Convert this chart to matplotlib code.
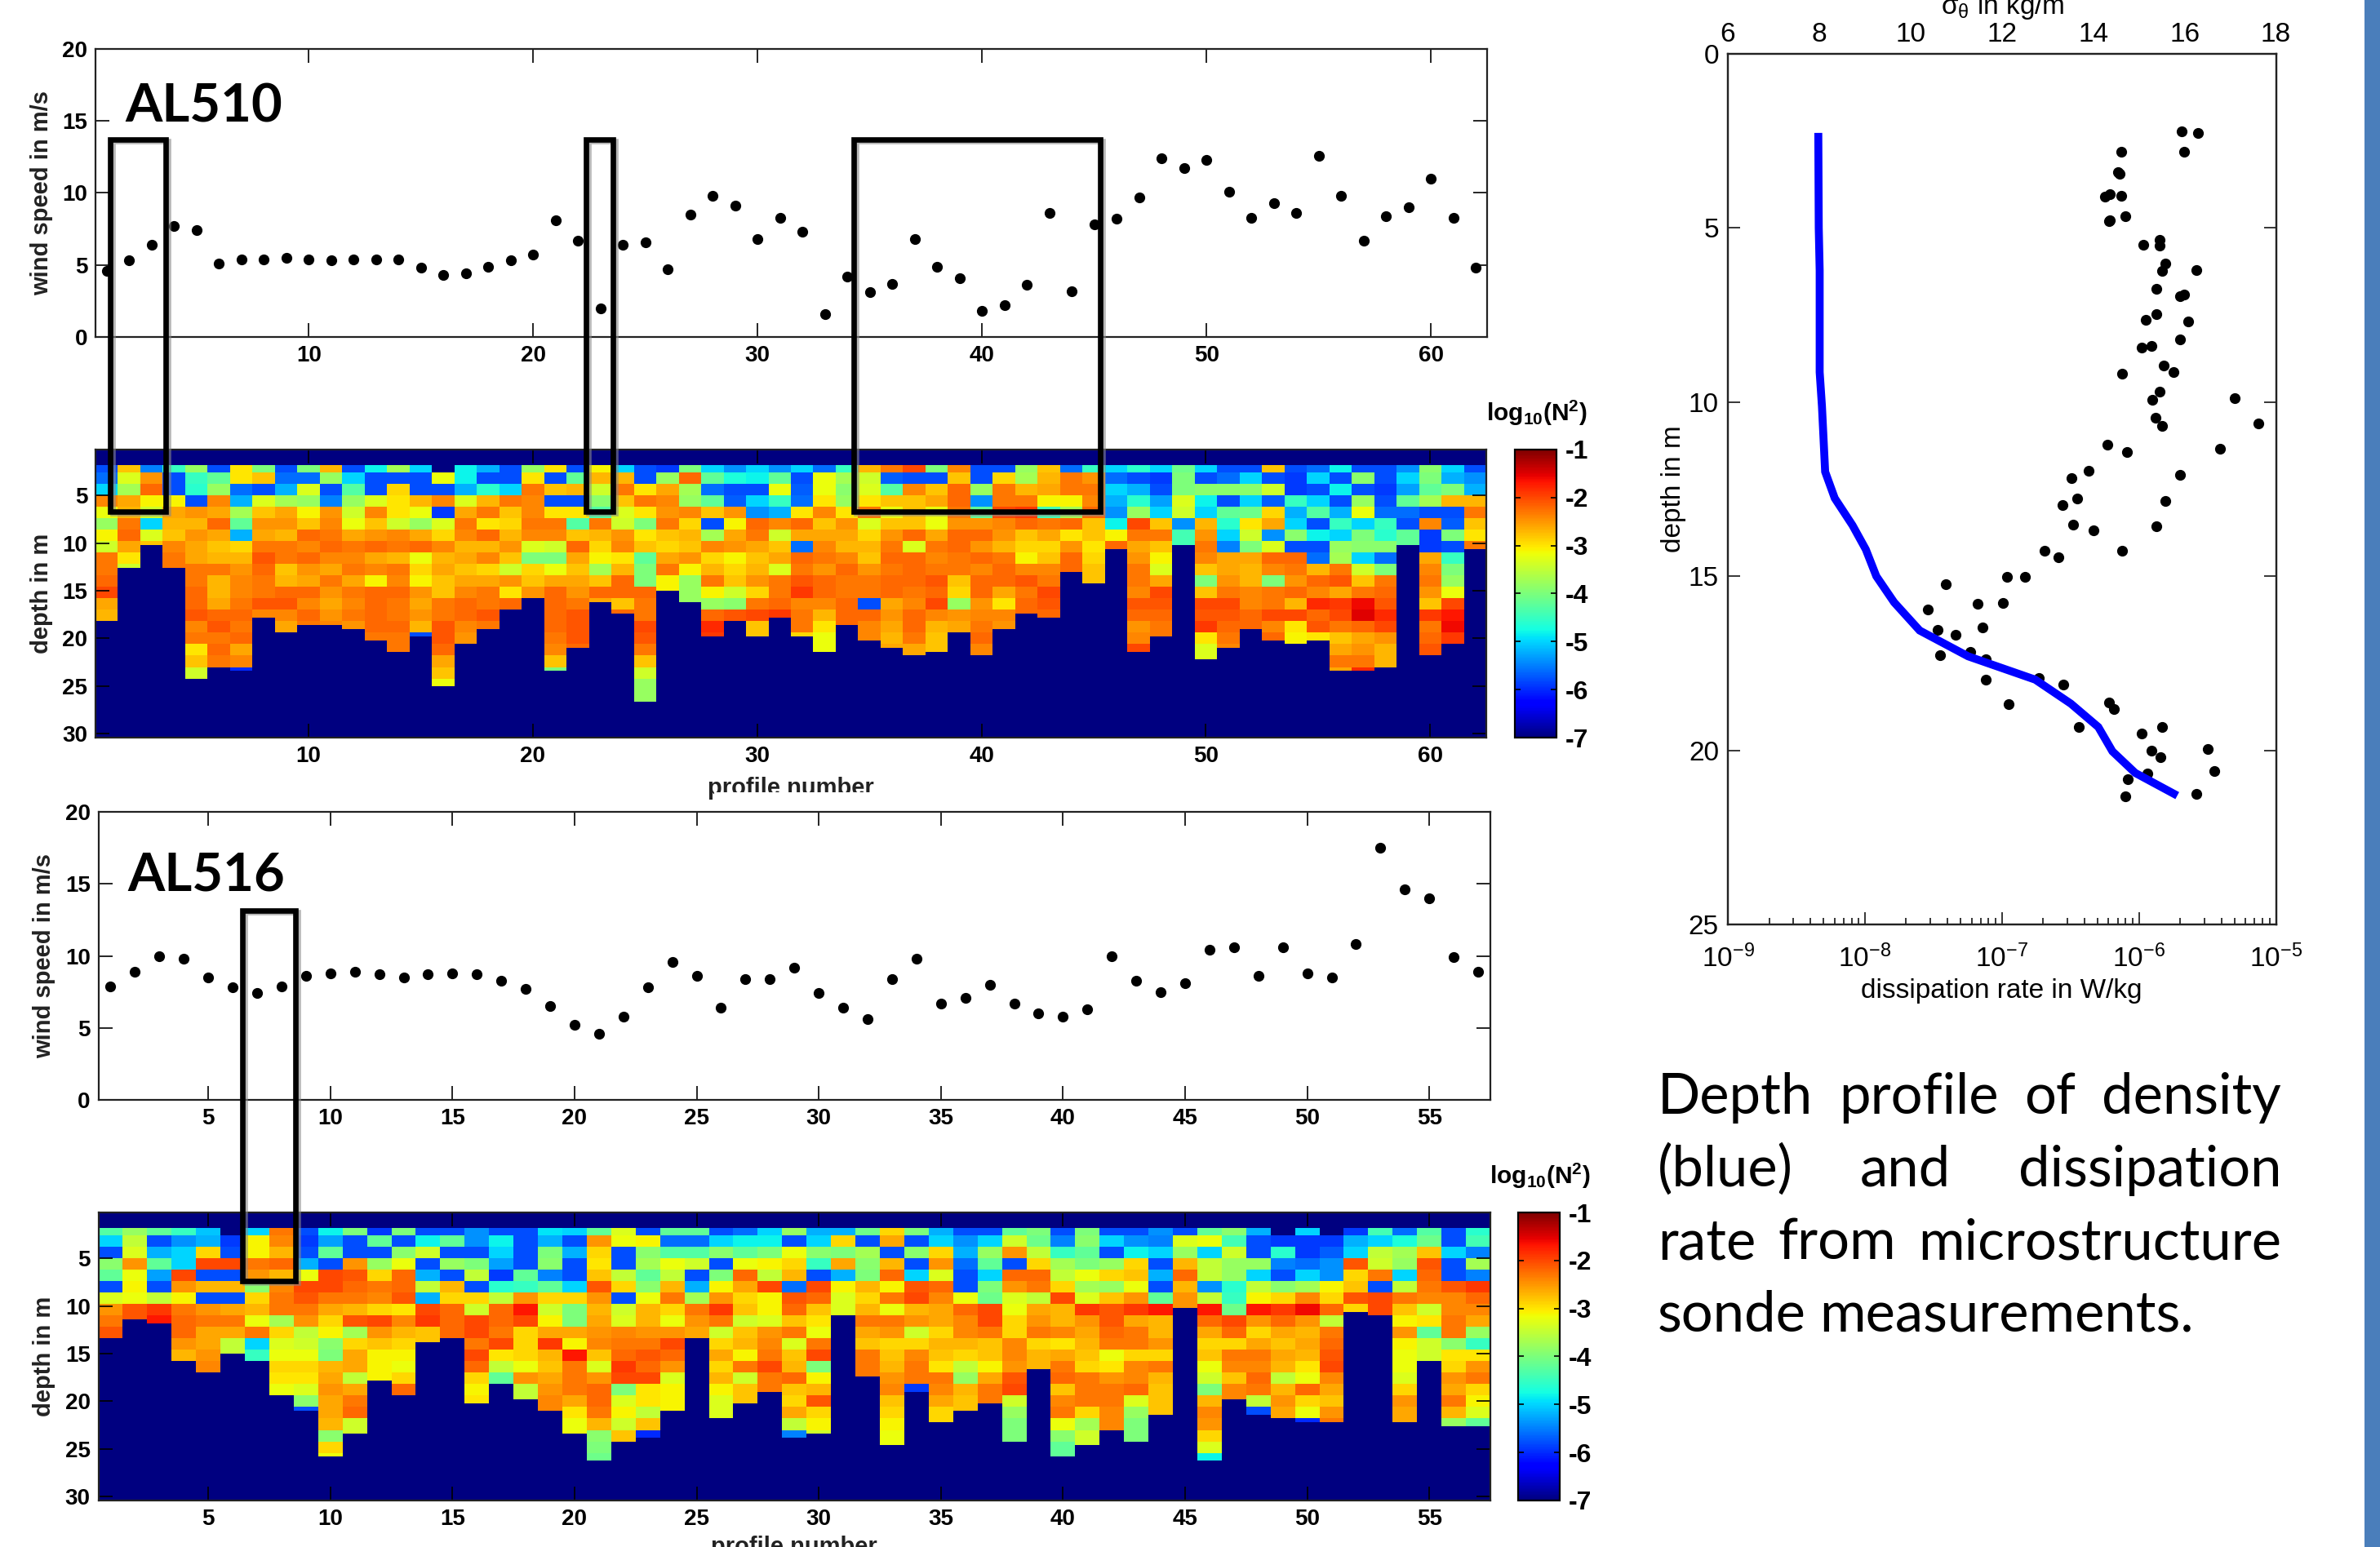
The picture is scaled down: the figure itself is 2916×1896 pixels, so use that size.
import numpy as np
import matplotlib
matplotlib.use('Agg')
import matplotlib.pyplot as plt
import matplotlib.patheffects as pe
from matplotlib.patches import Rectangle

plt.rcParams['font.family'] = ['Liberation Sans', 'DejaVu Sans']
plt.rcParams['mathtext.fontset'] = 'custom'
plt.rcParams['mathtext.rm'] = 'Liberation Sans'
plt.rcParams['mathtext.bf'] = 'Liberation Sans:bold'
plt.rcParams['mathtext.it'] = 'Liberation Sans:italic'

# wind speed per profile (m/s)
wind_al510 = [4.6, 5.3, 6.4, 7.7, 7.4, 5.1, 5.4, 5.4, 5.5, 5.4, 5.3, 5.4, 5.4, 5.4, 4.8, 4.3, 4.4, 4.9, 5.3, 5.7,
              8.1, 6.7, 2.0, 6.4, 6.6, 4.7, 8.5, 9.8, 9.1, 6.8, 8.3, 7.3, 1.6, 4.2, 3.1, 3.7, 6.8, 4.9, 4.1, 1.8,
              2.2, 3.6, 8.6, 3.2, 7.8, 8.2, 9.7, 12.4, 11.7, 12.3, 10.1, 8.3, 9.3, 8.6, 12.6, 9.8, 6.7, 8.4, 9.0, 11.0,
              8.3, 4.8]
wind_al516 = [7.9, 8.9, 10.0, 9.8, 8.5, 7.8, 7.4, 7.9, 8.6, 8.8, 8.9, 8.7, 8.5, 8.7, 8.8, 8.7, 8.3, 7.7, 6.5, 5.2,
              4.6, 5.8, 7.8, 9.6, 8.6, 6.4, 8.4, 8.4, 9.2, 7.4, 6.4, 5.6, 8.4, 9.8, 6.7, 7.1, 8.0, 6.7, 6.0, 5.8,
              6.3, 10.0, 8.3, 7.5, 8.1, 10.4, 10.6, 8.6, 10.6, 8.8, 8.5, 10.8, 17.5, 14.6, 14.0, 9.9, 8.9]

# deepest sample of each profile (m)
bottom_al510 = [18.3, 12.7, 10.3, 12.7, 24.3, 23.1, 23.5, 17.9, 19.5, 18.7, 18.7, 19.2, 20.4, 21.6, 19.9, 25.2, 20.7,
                19.2, 17.1, 15.9, 23.5, 21.1, 16.3, 17.5, 26.7, 15.1, 16.3, 19.9, 18.3, 19.9, 17.9, 19.9, 21.6, 18.7,
                20.3, 21.1, 21.9, 21.6, 19.5, 21.9, 19.1, 17.5, 17.9, 13.0, 14.3, 10.6, 21.6, 19.9, 10.3, 22.3, 21.1,
                19.1, 20.3, 20.7, 20.3, 23.5, 23.5, 23.1, 10.2, 21.9, 20.7, 10.6]
bottom_al516 = [13.4, 11.4, 11.8, 15.9, 17.0, 15.0, 15.9, 19.5, 21.0, 25.9, 23.4, 17.9, 19.5, 13.8, 13.4, 20.3, 18.3,
                19.9, 21.0, 23.5, 26.3, 24.3, 23.9, 21.0, 13.4, 21.9, 20.3, 19.0, 23.9, 23.5, 11.0, 17.4, 24.7, 19.0,
                22.2, 21.0, 20.3, 24.2, 16.6, 25.9, 24.7, 23.0, 24.2, 21.5, 10.2, 26.3, 19.8, 21.5, 21.9, 22.2, 22.2,
                10.7, 11.0, 22.2, 15.8, 22.7, 22.7]

# log10(N^2) read per profile, one value per 1.2 m depth band starting at 1.6 m
n2_al510 = [
    [-5.8, -5.6, -5, -2.4, -3.2, -3.8, -3.1, -3.4, -2.3, -2.3, -2.2, -2, -2.6, -2.7],
    [-2.8, -3.3, -3.7, -2.6, -2.7, -2.3, -2.2, -2.6, -3.0, -3.4],
    [-5.5, -2.5, -2.2, -3.1, -3.4, -5, -3.3, -2.8],
    [-4.5, -5.8, -5.8, -3.1, -2.6, -2.7, -2.8, -2.4, -2.3, -2.3],
    [-3.8, -4.5, -4.6, -5.8, -2.5, -2.7, -2.5, -2.6, -2.6, -2.3, -2.3, -2.2, -2.2, -2.1, -2.4, -2.3, -3.0, -2.8, -3.4],
    [-5.8, -4.2, -3.8, -2.4, -2.6, -2.2, -2.6, -2.8, -2.7, -2.3, -2.7, -2.7, -2.6, -2.2, -2.1, -2.3, -2.2, -2.3],
    [-3.0, -3.0, -5.6, -5.2, -3.7, -4.2, -5.2, -2.9, -2.7, -2.5, -2.4, -2.4, -2.3, -2.2, -2.3, -2.2, -2.6, -2.4, -6],
    [-4, -2.8, -5.8, -3.3, -2.8, -2.5, -2.6, -2.3, -2.1, -2.2, -2.3, -2.3, -2.1, -2.4],
    [-5.8, -5.6, -5.2, -3.7, -2.6, -2.5, -2.7, -2.3, -2.3, -2.8, -2.7, -2.2, -2.1, -2.4, -2.6],
    [-4, -5.6, -3.3, -3.8, -3.1, -2.8, -2.2, -2.4, -2.2, -2.5, -2.6, -2.2, -2.4, -2.2, -2.3],
    [-2.7, -3.8, -5.8, -5.5, -2.5, -2.4, -2.3, -2.2, -2.4, -2.6, -2.3, -2.5, -2.6, -2.5, -2.4],
    [-5.8, -5.0, -4.3, -3.8, -3.4, -3.2, -2.6, -2.3, -2.4, -2.3, -2.6, -2.3, -2.4, -2.3, -2.5],
    [-4.8, -5.8, -5.8, -3.3, -2.4, -2.8, -2.5, -2.2, -2.6, -2.4, -3.1, -2.2, -2.2, -2.2, -2.2, -2.3],
    [-3.7, -5.8, -2.9, -3.0, -3.0, -3.4, -2.4, -2.3, -2.7, -2.3, -2.4, -2.2, -2.3, -2.3, -2.2, -2.3, -2.3],
    [-5.0, -5.8, -5.8, -2.7, -3.2, -3.8, -2.6, -2.2, -3.2, -2.9, -3.1, -2.5, -2.6, -2.5, -2.7, -5.8],
    [-7, -3.2, -5.8, -2.4, -5.9, -3.3, -2.9, -2.4, -2.7, -2.6, -2.8, -2.8, -2.3, -2.3, -2.1, -2.1, -2.2, -2.6, -2.8, -3.2],
    [-4.8, -4.8, -5.2, -3.3, -2.6, -2.3, -2.4, -2.7, -2.6, -2.8, -2.6, -2.4, -2.2, -2.2, -2.4, -2.5],
    [-5.2, -5.8, -4.6, -2.7, -2.3, -3.0, -2.2, -2.7, -2.4, -2.9, -2.6, -2.3, -2.3, -2.1, -2.3],
    [-5.8, -5.8, -5.0, -2.3, -2.8, -2.9, -2.7, -2.5, -2.8, -3.4, -2.5, -3.0, -2.2],
    [-3.8, -3.0, -2.3, -2.4, -2.4, -2.3, -2.4, -3.3, -4.0, -2.9, -2.8, -2.5],
    [-3.0, -5.8, -2.8, -5.8, -3.0, -2.3, -2.4, -3.4, -4, -3.2, -2.6, -2.2, -2.2, -2.2, -2.2, -2.3, -2.4, -2.8, -4],
    [-5.8, -4.2, -2.7, -5.8, -3.0, -4.3, -2.8, -2.2, -2.6, -2.8, -2.6, -2.5, -2.3, -2.1, -2.1, -2.1, -2.2],
    [-3.1, -2.7, -3.4, -3.9, -4.3, -2.3, -2.7, -2.9, -3.1, -3.7, -2.8, -2.2, -2.6],
    [-5, -2.7, -2.3, -2.8, -3.3, -3.4, -2.5, -2.4, -3.0, -2.7, -2.2, -2.2, -2.8, -2.2],
    [-5.8, -5.8, -3.0, -2.3, -3.0, -4, -3.0, -2.8, -4.2, -4.0, -4.0, -2.2, -2.3, -2.3, -2.0, -2.1, -2.3, -2.8, -3.4, -3.8, -3.8],
    [-5.9, -3.8, -2.6, -2.4, -2.5, -2.3, -2.8, -2.9, -2.6, -2.3, -3.1],
    [-4, -2.2, -3.7, -3.8, -2.4, -2.9, -2.7, -2.8, -2.5, -3.1, -3.8, -3.8],
    [-5, -4.2, -5.6, -4.2, -2.8, -5.8, -3.7, -2.4, -2.9, -2.7, -2.3, -3.1, -3.8, -2.2, -1.8, -1.9],
    [-5.4, -4.7, -5.8, -5.7, -2.5, -3.1, -2.6, -2.5, -3.1, -2.9, -2.8, -3.4, -3.9, -2.1],
    [-5.0, -4.8, -5.8, -5.0, -5.4, -2.2, -2.3, -2.6, -2.8, -2.7, -2.5, -2.9, -2.3, -2.0, -2.8, -2.8],
    [-5.4, -4.2, -3.2, -4.5, -5.2, -2.4, -3.4, -2.8, -2.6, -3.3, -2.3, -2.3, -2.2, -1.9],
    [-5, -5.8, -5.7, -5.6, -3.0, -2.2, -2.6, -5.6, -2.2, -2.3, -2.1, -1.9, -2.4, -2.3, -2.3, -2.9],
    [-5.6, -3.2, -3.2, -3.0, -2.4, -2.8, -2.6, -2.4, -2.3, -2.5, -2.2, -2.2, -2.4, -2.7, -3.0, -3.2, -3.2],
    [-4.5, -3.7, -3.9, -3.8, -3.0, -2.5, -2.6, -2.7, -2.4, -2.2, -2.3, -2.3, -2.2, -2.2],
    [-2.7, -3.4, -3.3, -3.0, -2.3, -3.3, -2.9, -2.7, -2.8, -2.5, -2.3, -2.3, -5.8, -2.2, -2.4],
    [-2.3, -5.7, -4.3, -2.8, -3.2, -2.8, -2.5, -2.3, -2.2, -2.3, -2.2, -2.2, -2.6, -2.5, -2.6, -2.7, -2.6],
    [-2, -5.8, -2.4, -2.8, -2.8, -2.8, -2.2, -3.3, -2.2, -2.2, -2.2, -2.3, -2.4, -2.2, -2.2, -2.3, -2.6],
    [-4, -5.8, -2.8, -2.6, -3.2, -3.2, -2.6, -2.3, -2.4, -2.3, -2.1, -2.2, -2.0, -2.4, -2.7, -2.8],
    [-2.4, -2.8, -2.2, -2.2, -2.3, -2.5, -2.2, -2.2, -2.3, -2.3, -2.8, -2.9, -3.8, -2.5, -2.6],
    [-5.8, -5.8, -3.8, -5.4, -4.2, -2.5, -2.2, -2.5, -2.2, -2.4, -2.2, -2.2, -2.5, -2.4, -2.3, -2.2, -2.4],
    [-5.8, -2.9, -2.3, -2.3, -2.0, -2.4, -2.5, -2.7, -2.3, -2.2, -2.2, -2.6, -3.0, -2.4, -2.5],
    [-3.8, -3.7, -2.7, -2.3, -1.9, -2.2, -2.8, -2.9, -3.1, -2.4, -2.1, -2.3, -2.2],
    [-2.8, -2.7, -2.6, -3.1, -4.4, -2.3, -2.6, -2.9, -2.8, -2.4, -2.3, -2.0, -2.1, -2.2],
    [-5.6, -2.3, -2.3, -3.1, -3.7, -2.2, -3.0, -2.5, -2.2],
    [-4.5, -2.5, -2.3, -2.4, -2.2, -2.8, -2.8, -3.0, -2.9, -2.8, -2.8],
    [-5, -5.6, -5, -5.2, -5.4, -4.8, -3.1, -2.2],
    [-4.6, -5.8, -5.2, -4.6, -3.8, -2.0, -2.3, -2.6, -2.5, -2.3, -2.3, -2.4, -2.1, -2.2, -2.5, -2.4, -2],
    [-5.0, -5.9, -5.8, -5.3, -5.0, -2.8, -2.3, -2.8, -3.1, -3.3, -2.6, -2.0, -2.1, -2.2, -2.3],
    [-4.1, -4.0, -4.0, -3.3, -3.4, -5.4, -4.4],
    [-5.0, -5.8, -3.9, -4.8, -5.0, -2.7, -2.5, -2.3, -2.4, -2.8, -4, -2.8, -2.0, -2.1, -1.9, -3.0, -3.3],
    [-5.8, -5.6, -3.9, -5.8, -4.2, -4.6, -5.0, -5.5, -2.6, -2.6, -2.5, -2.3, -2.0, -2.1, -2.2, -2.3, -2.4],
    [-5.8, -5.0, -3.9, -5.0, -4.1, -3.0, -3.4, -4, -2.6, -2.7, -2.7, -2.4, -2.4, -2.2, -2.2],
    [-2.8, -5.8, -3.4, -5.7, -2.9, -2.6, -5.4, -3.3, -2.2, -2.4, -4, -2.3, -2.3, -2, -2.4, -2.2],
    [-5.8, -5.9, -5.9, -4.5, -5.2, -5, -3.9, -5.8, -2.2, -2.3, -2.5, -2.2, -2.7, -2, -3.0, -3.1],
    [-5.6, -5, -5.8, -5, -4.3, -5.8, -4.8, -5.8, -5.6, -2.7, -2.2, -2.4, -1.8, -2.2, -2.1, -3.0],
    [-4.8, -5.8, -4.8, -5.8, -5.2, -4.5, -5, -3.8, -3.7, -2.3, -2.1, -2.6, -1.9, -2, -2.3, -2.8, -2.6, -2.3, -2.6],
    [-5.8, -3.9, -5.8, -3.8, -3.2, -5.0, -4.0, -3.9, -5.0, -3.4, -2.8, -2.3, -1.6, -1.5, -2.2, -2.6, -2.5, -2.3, -1.8],
    [-5.8, -5.8, -5.9, -5.8, -5.6, -4.5, -4.6, -3.9, -5.6, -4, -2.3, -2.2, -2.1, -1.8, -2, -2.5, -2.7, -2.7],
    [-5.4, -5.0, -5.3, -4.2, -5.6, -5.8, -4.2],
    [-3.9, -4.0, -4.2, -3.7, -5.8, -2.4, -5.9, -5.9, -2.6, -2.4, -2.3, -2.5, -2.8, -1.9, -2.3, -2.2, -2.1],
    [-5, -5.2, -4, -2.7, -5.8, -5.7, -4, -5.8, -4.5, -4, -3.8, -3.2, -2.0, -1.7, -1.6, -1.9],
    [-5.8, -5.4, -5.2, -2.7, -2.3, -2.8, -3.0, -2.3],
]
n2_al516 = [
    [-4.3, -5, -5.8, -3.9, -4.2, -5.8, -3.3, -2.5, -2.3, -2.1],
    [-3.8, -3.5, -3.3, -2.5, -3.2, -3.1, -3.2, -2.1],
    [-4.2, -5.8, -5.2, -4.2, -5.3, -5.8, -3.5, -1.9, -1.7],
    [-4.5, -5.4, -5, -5, -2, -2.5, -3.1, -2.3, -2.2, -2.2, -2.5, -2.7],
    [-5.1, -5.2, -2.9, -2, -5.8, -2.7, -5.8, -2.5, -2.3, -2.6, -2.6, -2.5, -2.4],
    [-7, -5.9, -5.8, -2, -5.8, -2.7, -5.8, -2.6, -2.3, -2.6, -3.5],
    [-5, -3.1, -3.1, -2.3, -2.5, -3.9, -2.9, -2.7, -3.2, -2.3, -5, -4.5],
    [-2.3, -2.4, -2.7, -2.2, -2.7, -2.4, -2.3, -2.3, -3.7, -2.9, -3.3, -3.2, -2.9, -3.0, -3.2],
    [-5.8, -5.9, -5.8, -5.2, -3.2, -2, -2.1, -2.3, -2.5, -3.5, -3.4, -3.2, -2.9, -3.0, -3.3, -3.9, -5.8],
    [-4.8, -5.3, -4.2, -5.8, -2, -2, -2.3, -2.6, -2.9, -3.1, -3.9, -4, -2.7, -2.6, -2.5, -2.6, -2.6, -2.7, -3.9, -2.9, -3.2],
    [-4, -5.8, -5.8, -2.5, -2.1, -2.2, -2.3, -2.7, -2.1, -3.7, -2.9, -2.6, -2.6, -3.5, -2.6, -2.3, -2.2, -3.4],
    [-5.9, -4.2, -5.8, -3.8, -2.9, -2.3, -2.4, -2.9, -2, -2.5, -2.8, -3.1, -3.1],
    [-4, -5.8, -3.9, -3.2, -2.2, -2.2, -2.1, -3.0, -2.4, -2.7, -2.9, -3.1, -3.2, -2.9, -2.2],
    [-5.8, -4.8, -3.4, -5.8, -5.2, -3.5, -5.2, -2, -1.9, -2.8],
    [-5.8, -4.2, -5.8, -3.8, -5.8, -2.7, -2.9, -2.2, -2.2, -2.2],
    [-5.4, -5.4, -5.8, -4, -3.5, -5.8, -2.9, -3.4, -2, -2.0, -2.3, -2, -2.2, -2.9, -3.1, -3.0],
    [-5.8, -4.8, -5, -5.3, -5.9, -4.6, -3.5, -2.2, -2.2, -2.3, -2.0, -3.0, -3.5, -4.2],
    [-5.8, -5.8, -5.8, -5.8, -4.2, -4.5, -2.5, -1.7, -2, -2.9, -2.9, -2.9, -3.2, -2.5, -3.5],
    [-4.9, -5.2, -4, -3.9, -5.5, -4.2, -2.9, -3.4, -3.1, -2.6, -1.9, -2.7, -2.8, -2.6, -2.5, -2.4],
    [-5, -5.8, -5.2, -5.8, -5.8, -5.0, -2.9, -4, -4, -2.6, -3.1, -1.7, -2.3, -2.3, -2.3, -2.6, -3.0, -3.2],
    [-4.2, -2.5, -2.9, -3.0, -2.8, -2.1, -2.5, -2.7, -2.6, -2.5, -2.4, -2.8, -3.3, -2.5, -2.2, -2.2, -2.3, -2.7, -3.9, -4, -4.1],
    [-3.3, -3.2, -5.8, -5.8, -3.5, -2.9, -5.8, -3.4, -3.3, -2.4, -2.3, -2.2, -1.9, -2, -4, -3.3, -3.1, -3.4, -2.8],
    [-5.8, -3.1, -3.9, -3.7, -4.2, -3.9, -3.2, -2.7, -2.7, -2.5, -2.3, -2.1, -2.2, -2.0, -3.0, -3.0, -3.5, -2.8, -6],
    [-4.2, -5.6, -4.3, -3.2, -3.5, -2.7, -2.3, -2.9, -3.2, -2.5, -2.0, -2.2, -2.5, -3.3, -3.1],
    [-4.2, -5.6, -4.3, -3.4, -5.8, -5.2, -3.7, -2.3, -2.5, -2.6],
    [-5.8, -5, -3.9, -5.8, -4, -3.1, -2.5, -1.9, -2.3, -3.4, -2.9, -2.6, -2.9, -2.7, -3.1, -3.3, -3.3],
    [-5.6, -4.8, -4.2, -3.2, -2.2, -2.6, -2.9, -2.8, -3.4, -2.8, -2.7, -3.1, -2.3, -3.4, -2.8],
    [-5, -4.8, -4, -3.1, -3.5, -2, -3.1, -3.1, -3.3, -2.5, -2.4, -2.3, -2.0, -2.3],
    [-3.8, -5.8, -3.2, -2.9, -2.7, -5.6, -2.1, -2.2, -2.8, -2.3, -3.3, -2.8, -2.7, -2.2, -2.8, -2.9, -2.6, -3.5, -5.5],
    [-5.2, -5, -3.9, -4.5, -5.8, -2.0, -2.2, -2.8, -3.0, -3.2, -2.3, -2.0, -4, -3.1, -2.7, -2.1, -2.9, -3.1, -3.4],
    [-5.2, -2.9, -4, -2.6, -5.2, -3.1, -3.3],
    [-4.1, -5.8, -3.7, -3.9, -4, -2.7, -2.9, -2.7, -2.3, -2.6, -2.8, -2.3, -2.3],
    [-2.9, -2.6, -5.8, -2.7, -2.2, -3.1, -2.3, -3.2, -2.3, -2.5, -2.9, -2.8, -2.7, -2.5, -2.4, -2.8, -2.9, -3.1, -3.2],
    [-4, -5.8, -3.9, -5.8, -5.0, -2.1, -2.0, -2.7, -2.5, -3.4, -2.9, -2.4, -2.3, -2.3, -5.9],
    [-5.2, -5, -2.9, -2.5, -3.3, -2.2, -2.4, -2.6, -2.6, -2.9, -2.7, -2.8, -3.0, -2.3, -2.4, -2.6, -2.9],
    [-5.8, -5.4, -5.2, -5.6, -5.8, -5.8, -3.2, -2.2, -2.4, -2.4, -2.7, -2.9, -3.5, -3.8, -2.7, -2.8],
    [-5.8, -5, -3.8, -4.2, -5, -4, -4.1, -2.0, -2, -2.3, -2.8, -2.8, -3.1, -2.6, -2.3],
    [-4.2, -3.4, -2.5, -5.8, -2.2, -2.5, -3.3, -3.2, -2.9, -2.9, -2.4, -2.4, -2.5, -2.1, -2, -3.4, -3.8, -4],
    [-4, -4.1, -3.5, -2.9, -2.2, -2.3, -3.5, -2.6, -2.5, -2.3, -2.9, -2.7],
    [-5.8, -5.5, -4.5, -3.7, -3.5, -2.9, -2.0, -2.7, -2.7, -2.4, -3.0, -2.6, -2.3, -2.2, -2.8, -2.4, -2.3, -3.2, -3.9, -4.2],
    [-4, -3.9, -4.2, -4, -3.2, -3.7, -3.3, -1.9, -2.5, -2.6, -2.7, -2.8, -2.9, -2.3, -2.3, -2.3, -2.9, -3.7, -3.4],
    [-5.8, -5, -5.8, -3.8, -2.9, -3.8, -2.8, -2.1, -2.1, -2.2, -2.3, -3.2, -3.0, -2.5, -2.3, -2.3, -2.4],
    [-5.8, -5.4, -4.8, -2.9, -2.8, -3.2, -2.5, -1.9, -2.6, -2.3, -2.3, -2.9, -2.4, -2.4, -2.2, -3.3, -3.8, -4],
    [-5.4, -5.5, -5.0, -5.8, -5.2, -5.8, -4.2, -1.7, -2.7, -2.7, -2.5, -2.9, -2.3, -2.7, -2.8],
    [-5.8, -3.3, -3.8, -2.7, -2.2, -2.7, -2.5],
    [-4.2, -3.2, -5, -3.5, -3.5, -5.4, -3.5, -1.7, -2.2, -2.6, -2.9, -2.8, -3.2, -3.4, -4, -2.7, -2.4, -2.5, -2.9, -3.3, -4.8],
    [-3.9, -4.4, -3.4, -3.8, -3.8, -4.6, -4.5, -4.1, -2, -2.2, -2.9, -2.3, -2.4, -2.8, -2.4],
    [-5.2, -5.8, -5.8, -3.8, -5, -3.5, -3.1, -1.7, -2.5, -2.9, -2.6, -2.3, -2.4, -2.2, -2.3, -3.5, -5.8],
    [-7, -5.9, -4.6, -5.5, -5.8, -3.9, -2.9, -1.9, -2.2, -2.6, -2.8, -2.6, -2.7, -3.5, -2.7, -2.5, -2.6],
    [-5, -5.9, -5.9, -5.6, -5.0, -3.7, -2.4, -1.6, -2.5, -2.7, -2.6, -2.7, -3.0, -3.2, -2.2, -2.9, -3.2, -6],
    [-7, -5.9, -5.7, -5.4, -5.4, -3.1, -2.9, -2.2, -3.5, -2.3, -2.2, -2.1, -2.0, -2.4, -2.6, -2.8, -2.5, -2.3],
    [-5.9, -5.2, -5.0, -2.1, -2.9, -2.8, -2.1, -2.9],
    [-4.4, -5.0, -3.5, -3.4, -2.3, -5.8, -2],
    [-5.6, -4.7, -3.7, -3.8, -5, -3.5, -2.3, -2.8, -3.1, -2.5, -3.1, -3.2, -3.2, -3.3, -2.9, -2.5, -2.6],
    [-4.3, -4.1, -2.8, -2.1, -2.2, -2.3, -2.4, -3.4, -3.0, -4.2, -3.4],
    [-5.8, -5.8, -5.0, -5.8, -5.8, -2.1, -2.4, -2.4, -2.3, -2.3, -3.9, -3.0, -2.9, -2.5, -2.6, -2.3, -2.7, -3.8],
    [-4.6, -4.4, -5.5, -3.7, -5.5, -1.9, -2.2, -2.4, -2.6, -3.8, -4.5, -3.0, -2.5, -2.3, -2.9, -3.1, -3.3, -4.2],
]

# microstructure sonde profile
eps_log = [-5.69, -5.57, -5.67, -6.13, -6.15, -6.14, -6.21, -6.25, -6.13, -6.10, -6.21, -6.22, -5.85, -5.97, -5.85,
           -5.81, -5.83, -5.58, -5.87, -5.67, -5.70, -5.87, -5.95, -5.64, -5.70, -5.91, -5.98, -5.82, -5.75, -6.12,
           -5.85, -5.90, -5.30, -5.88, -5.83, -5.13, -6.23, -6.09, -5.41, -6.37, -6.49, -5.70, -6.45, -5.81, -6.56,
           -6.48, -5.87, -6.33, -6.69, -6.59, -6.12, -7.41, -6.96, -6.83, -7.54, -7.18, -6.99, -7.47, -7.14, -7.34,
           -7.23, -7.45, -7.12, -7.12, -6.73, -6.55, -6.95, -6.22, -6.18, -6.44, -5.83, -5.98, -5.91, -5.84, -5.50,
           -5.45, -5.94, -6.08, -6.10, -5.58]
eps_depth = [2.23, 2.27, 2.82, 2.82, 3.40, 3.45, 4.02, 4.10, 4.08, 4.66, 4.78, 4.80, 5.34, 5.48, 5.51,
             6.03, 6.23, 6.20, 6.74, 6.91, 6.95, 7.47, 7.64, 7.68, 8.19, 8.39, 8.43, 8.95, 9.14, 9.18,
             9.70, 9.93, 9.88, 10.46, 10.69, 10.61, 11.22, 11.44, 11.35, 11.98, 12.19, 12.10, 12.76, 12.83, 12.95,
             13.53, 13.56, 13.69, 14.27, 14.46, 14.28, 15.22, 15.03, 15.03, 15.96, 15.79, 15.76, 16.53, 16.48, 16.69,
             17.18, 17.26, 17.38, 17.98, 17.92, 18.12, 18.68, 18.63, 18.82, 19.34, 19.32, 19.52, 20.02, 20.19, 19.97,
             20.60, 20.66, 20.83, 21.31, 21.24]
sigma_theta = [7.98, 7.99, 8.01, 8.01, 8.06, 8.13, 8.34, 8.73, 9.02, 9.25, 9.64, 10.20, 11.26, 12.73, 13.51, 14.11,
               14.42, 14.92, 15.84]
sigma_depth = [2.27, 5.0, 6.22, 9.14, 10.12, 12.0, 12.76, 13.54, 14.23, 15.0, 15.75, 16.56, 17.30, 17.97, 18.66,
               19.33, 20.03, 20.65, 21.30]

caption_lines = ['Depth profile of density', '(blue) and dissipation', 'rate from microstructure',
                 'sonde measurements.']

W, H = 2916, 1896
fig = plt.figure(figsize=(W / 100, H / 100), dpi=100, facecolor='white')


def ax_px(left, top, right, bottom):
    return fig.add_axes([left / W, 1 - bottom / H, (right - left) / W, (bottom - top) / H])


def fig_text(x, y, s, **kw):
    return fig.text(x / W, 1 - y / H, s, **kw)


def style_axes(ax):
    for sp in ax.spines.values():
        sp.set_linewidth(1.6)
        sp.set_color('#222222')


def wind_panel(rect, wind, xticks, xlim, name):
    ax = ax_px(*rect)
    ax.plot(np.arange(1, len(wind) + 1), wind, 'o', color='black', ms=8.5, clip_on=False)
    ax.set_xlim(xlim)
    ax.set_ylim(0, 20)
    ax.set_xticks(xticks)
    ax.set_yticks([0, 5, 10, 15, 20])
    ax.tick_params(direction='in', length=12, width=1.2, top=True, right=True, labelsize=20, pad=7)
    for lab in ax.get_xticklabels() + ax.get_yticklabels():
        lab.set_fontweight('bold')
    style_axes(ax)
    fig_text(rect[0] - 66, (rect[1] + rect[3]) / 2, 'wind speed in m/s', rotation=90, ha='center', va='center',
             fontsize=21, fontweight='bold', color='#222222')
    fig_text(rect[0] + 36, name[1], name[0], fontsize=47, fontweight='bold', family='Lato', va='baseline')
    return ax


def n2_grid(columns, bottoms):
    # every listed band covers 3 samples of 0.4 m, nothing above 2 m or below the last sample
    edges = np.arange(0.2, 30.8, 0.4)
    centers = (edges[:-1] + edges[1:]) / 2
    grid = np.full((len(centers), len(columns)), -7.0)
    for j, (col, bot) in enumerate(zip(columns, bottoms)):
        for i, d in enumerate(centers):
            if 2.0 <= d < bot:
                grid[i, j] = col[min(int((d - 1.6) / 1.2), len(col) - 1)]
    return edges, grid


def n2_panel(rect, cbar_rect, columns, bottoms, xticks):
    ax = ax_px(*rect)
    edges, grid = n2_grid(columns, bottoms)
    x_edges = np.arange(len(columns) + 1) + 0.5
    mesh = ax.pcolormesh(x_edges, edges, grid, cmap='jet', vmin=-7, vmax=-1, shading='flat', rasterized=True)
    ax.set_xlim(x_edges[0], x_edges[-1])
    ax.set_ylim(30.4, 0.2)
    ax.set_xticks(xticks)
    ax.set_yticks([5, 10, 15, 20, 25, 30])
    ax.tick_params(direction='in', length=12, width=1.2, top=True, right=True, labelsize=20, pad=7)
    for lab in ax.get_xticklabels() + ax.get_yticklabels():
        lab.set_fontweight('bold')
    style_axes(ax)
    fig_text(rect[0] - 66, (rect[1] + rect[3]) / 2, 'depth in m', rotation=90, ha='center', va='center',
             fontsize=21, fontweight='bold', color='#222222')

    cax = ax_px(*cbar_rect)
    cb = fig.colorbar(mesh, cax=cax, ticks=[-7, -6, -5, -4, -3, -2, -1])
    cb.ax.set_yticklabels(['-7', '-6', '-5', '-4', '-3', '-2', '-1'], fontweight='bold', fontsize=23)
    cb.ax.tick_params(direction='in', length=5, width=1.2, left=True, right=True, pad=8)
    cb.outline.set_linewidth(1.6)
    fig_text((cbar_rect[0] + cbar_rect[2]) / 2 + 1, rect[1] - 35, r'$\mathbf{log_{10}(N^2)}$', ha='center',
             va='baseline', fontsize=21.5)
    return ax


def box(left, top, right, bottom):
    r = Rectangle((left / W, 1 - bottom / H), (right - left) / W, (bottom - top) / H, transform=fig.transFigure,
                  fill=False, ec='black', lw=4.8, zorder=20, joinstyle='miter',
                  path_effects=[pe.SimpleLineShadow(offset=(2.5, -1.5), shadow_color='#888888', alpha=0.6),
                                pe.Normal()])
    fig.add_artist(r)


wind_panel((117, 60, 1822, 413), wind_al510, range(10, 61, 10), (0.5, 62.5), ('AL510', 150))
n2_panel((117, 551, 1821, 904), (1856, 551, 1907, 904), n2_al510, bottom_al510, range(10, 61, 10))
wind_panel((120.5, 995, 1826, 1348), wind_al516, range(5, 56, 5), (0.5, 57.5), ('AL516', 1091))
n2_panel((120.5, 1486, 1826, 1839), (1860, 1486, 1911, 1839), n2_al516, bottom_al516, range(5, 56, 5))

# profile number labels, both cut off at the bottom in the slide
fig_text(969, 963, 'profile number', ha='center', va='center_baseline', fontsize=21, fontweight='bold', color='#222222')
fig_text(973, 1893, 'profile number', ha='center', va='center_baseline', fontsize=21, fontweight='bold', color='#222222')
fig.add_artist(Rectangle((0.3, 1 - 990 / H), 0.1, 19 / H, transform=fig.transFigure, fc='white', ec='none', zorder=10))

box(135, 171, 203, 627)
box(717.5, 171, 751, 627)
box(1045.5, 171, 1348, 627)
box(296.5, 1116, 362, 1570)

# dissipation and density profile
ax = ax_px(2117, 66, 2788.5, 1133)
ax.set_xscale('log')
ax.plot(10.0 ** np.array(eps_log), eps_depth, 'o', color='black', ms=8.5)
ax.set_xlim(1e-9, 1e-5)
ax.set_ylim(25, 0)
ax.set_yticks([0, 5, 10, 15, 20, 25])
ax.tick_params(which='major', direction='in', length=11, width=1.1, top=True, right=True, labelsize=24, pad=8)
ax.tick_params(axis='x', which='major', pad=18)
ax.tick_params(which='minor', direction='in', length=6, width=1.1, top=True)
ax.set_xlabel('dissipation rate in W/kg', fontsize=24, labelpad=5)
ax.set_ylabel('depth in m', fontsize=24, labelpad=2)
style_axes(ax)

ax2 = ax.twiny()
ax2.plot(sigma_theta, sigma_depth, color='#0000ff', lw=7, solid_capstyle='butt', solid_joinstyle='miter')
ax2.set_xlim(6, 18)
ax2.set_xticks(range(6, 19, 2))
ax2.tick_params(axis='x', length=0, labelsize=24, pad=6)
style_axes(ax2)
fig_text(2454, 9, r'$\mathrm{\sigma_\theta}$ in kg/m', ha='center', va='center', fontsize=24)

# caption, justified to the width of the profile panel
renderer = fig.canvas.get_renderer()
x0, x1 = 2031, 2795
for n, line in enumerate(caption_lines):
    words = line.split()
    items = [fig_text(x0, 1365 + 89 * n, w, fontsize=49.5, family='Lato', va='baseline', color='black') for w in words]
    widths = [t.get_window_extent(renderer).width for t in items]
    space = (x1 - x0 - sum(widths)) / (len(words) - 1) if n < 3 else 16
    x = x0
    for t, wd in zip(items, widths):
        t.set_x(x / W)
        x += wd + space

# slide edge
fig.add_artist(Rectangle((2897 / W, 0), 19 / W, 1, transform=fig.transFigure, fc='#4A7EBB', ec='none'))

fig.savefig('out.png', dpi=100, facecolor='white')
